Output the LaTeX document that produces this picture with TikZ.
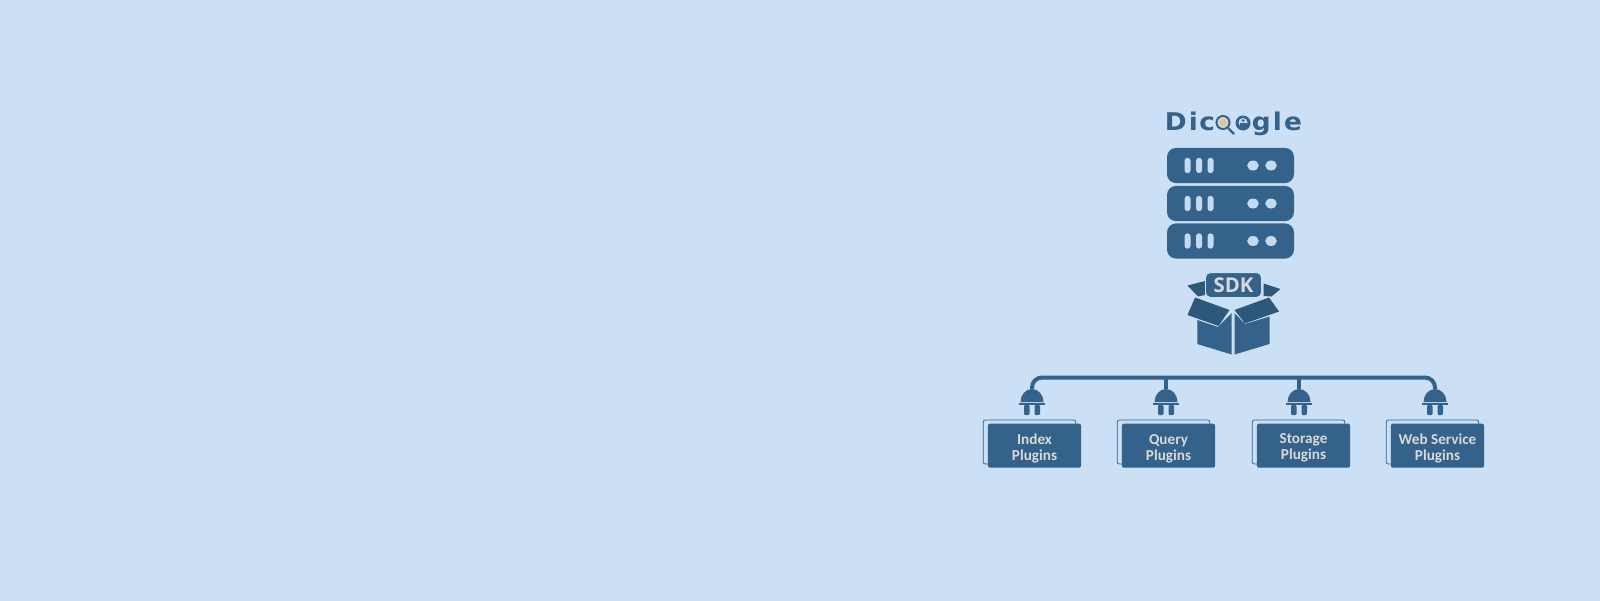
\documentclass[tikz,border=0pt]{standalone}
\usepackage{fontspec}
\setmainfont{Carlito}
\newfontfamily\logofont[FakeStretch=1.08]{DejaVu Sans}
\newfontfamily\sdkfont{Open Sans}
\usetikzlibrary{positioning,calc,shapes.geometric}
\definecolor{pagebg}{HTML}{CBE0F5}
\definecolor{dicblue}{HTML}{35628A}
\definecolor{flapblue}{HTML}{2E5879}
\definecolor{slotblue}{HTML}{C3DAF0}
\definecolor{plugtext}{HTML}{D8D9DA}
\definecolor{lensgold}{HTML}{E3C48F}
\tikzset{
  rackbk/.style={rounded corners=4.5pt, fill=dicblue, minimum width=63.5pt,
                 minimum height=17.6pt, inner sep=0pt},
  slot/.style={rounded corners=1.4pt, fill=slotblue, minimum width=3pt,
               minimum height=7.6pt, inner sep=0pt},
  led/.style={ellipse, fill=slotblue, minimum width=5.8pt, minimum height=5pt, inner sep=0pt},
  logoletter/.style={font=\logofont\bfseries\fontsize{12.2pt}{13pt}\selectfont, text=dicblue,
                     inner sep=0pt, anchor=base west},
  pluginbk/.style={rounded corners=1pt, fill=dicblue, minimum width=46.6pt, minimum height=22pt,
                   inner sep=0pt},
  pluginbk back/.style={rounded corners=1pt, draw=dicblue, line width=0.4pt, fill=pagebg,
                   minimum width=46.2pt, minimum height=22pt, inner sep=0pt},
  pluginlab/.style={align=center, inner sep=0pt, text=plugtext,
                   font=\bfseries\fontsize{7.6pt}{8.2pt}\selectfont},
  bus/.style={draw=dicblue, line width=2pt, rounded corners=5pt},
  stem/.style={draw=dicblue, line width=2pt},
  body/.style={fill=dicblue},
  flap/.style={fill=flapblue},
}
\begin{document}
\begin{tikzpicture}[x=0.5pt,y=-0.5pt]
\useasboundingbox (0,0) rectangle (1600,600);
\fill[pagebg] (-5,-5) rectangle (1605,605);

% ---------- logo ----------
\node[logoletter] at (1164.5,130) (logoa) {D\kern1pt i\kern0.8pt c};
\node[logoletter] at (1251.5,130) (logob) {g\kern1.1pt l\kern1.1pt e};
\draw[dicblue, line width=1pt, fill=pagebg] (1223,122.5) circle (6.5);
\fill[lensgold] (1223,122.5) circle (4);
\draw[dicblue, line width=1.1pt] (1228,128) -- (1234,134);
\fill[dicblue] (1243,123) circle (7.5);
\fill[slotblue] (1243,122.5) circle (4.5);
\fill[dicblue] (1243,120.5) circle (1.5);
\fill[dicblue] (1239.5,127) rectangle (1246.5,122.5);

% ---------- server rack ----------
\foreach \r/\y in {a/165.5,b/203.5,c/241}{
  \node[rackbk] at (1230.5,\y) (rack\r) {};
  \foreach \x in {1187.5,1199,1210.5}{
    \node[slot] at (\x,\y) {};}
  \foreach \x in {1253,1271}{
    \node[led] at (\x,\y) {};}
}

% ---------- sdk box ----------
\fill[body] (1197.3,320) -- (1218,327) -- (1231.7,313) -- (1231.7,354.5) -- (1197.3,344) -- cycle;
\fill[body] (1234.5,313) -- (1245,324) -- (1269.5,316.5) -- (1269.5,344) -- (1234.5,354.5) -- cycle;
\fill[flap] (1195,297.5) -- (1229.5,310) -- (1218.5,326) -- (1187.5,315) -- cycle;
\fill[flap] (1234.5,310) -- (1269,297.5) -- (1279,311.5) -- (1245,323.5) -- cycle;
\fill[flap] (1187.5,285.5) -- (1205,281) -- (1205,295) -- (1198,296.5) -- cycle;
\fill[flap] (1263.5,283.5) -- (1280.5,289) -- (1271.5,296.5) -- (1263.5,296) -- cycle;
\node[fill=dicblue, draw=pagebg, line width=0.4pt, rounded corners=2.5pt, minimum width=28pt,
      minimum height=12.4pt, inner sep=0pt, text=plugtext,
      font=\sdkfont\bfseries\fontsize{10.2pt}{10pt}\selectfont] at (1233.5,285) (sdk) {SDK};

% ---------- plugin row ----------
\foreach \i/\x/\bx/\fx/\txt/\ty in {1/1032/1029.5/1034.5/{Index\\Plugins}/448.5,
                            2/1166/1163.5/1168.5/{Query\\Plugins}/448.5,
                            3/1299/1298.5/1303.5/{Storage\\Plugins}/447.5,
                            4/1435/1432.5/1437.5/{Web Service\\Plugins}/448.5}{
  \coordinate (plug\i) at (\x,389);
  \fill[dicblue] (\x-11.5,402) arc[start angle=180, end angle=360, x radius=11.5, y radius=13]
     -- cycle;
  \fill[dicblue] (\x-13,403) rectangle (\x+13,405);
  \foreach \dx in {-8,2.5}{
    \fill[dicblue, rounded corners=0.6pt] (\x+\dx,405) rectangle (\x+\dx+5.5,415);}
  \node[pluginbk back] at (\bx,442) (back\i) {};
  \node[pluginbk] at (\fx,445.7) (box\i) {};
  \node[pluginlab] at (\fx,\ty) (lab\i) {\txt};
}
\draw[bus] (plug1) |- (1435,377.5) -- (plug4);
\draw[stem] (plug2) -- (1166,377.5);
\draw[stem] (plug3) -- (1299,377.5);
\end{tikzpicture}
\end{document}
